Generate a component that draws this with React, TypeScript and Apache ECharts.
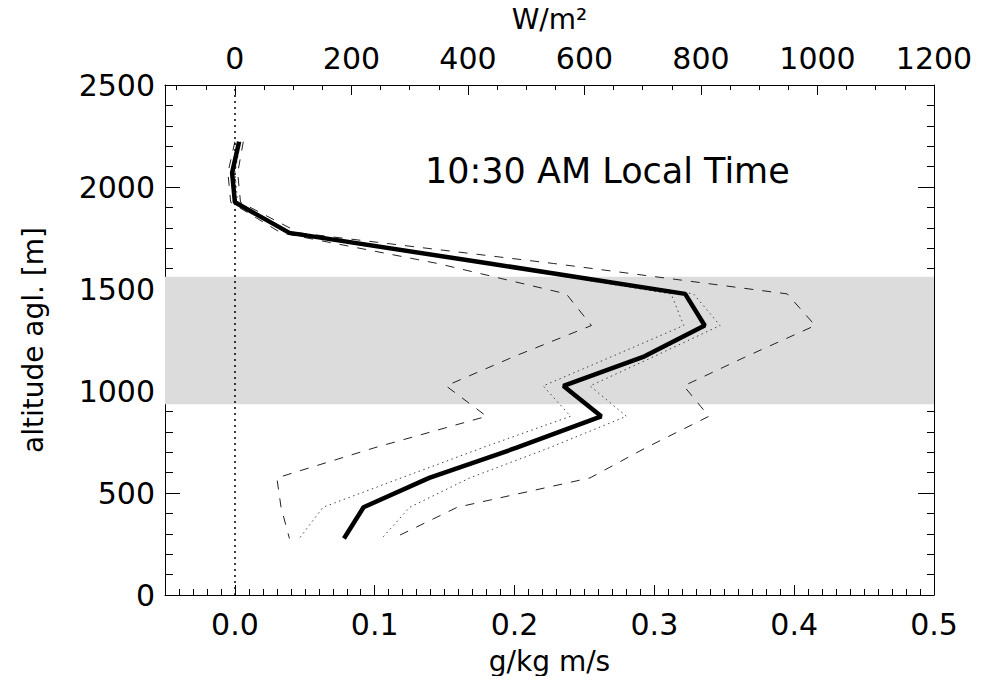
import React, { useEffect, useRef } from "react";
import * as echarts from "echarts";

const altitudes = [2222, 2070, 1925, 1775, 1625, 1476, 1321, 1170, 1025, 876, 722, 574, 430, 277];
const meanFlux = [0.003, -0.002, 0.0, 0.039, 0.182, 0.322, 0.336, 0.293, 0.235, 0.262, 0.2015, 0.139, 0.092, 0.078];
const lowerDashed = [0.0, -0.005, -0.003, 0.033, 0.145, 0.237, 0.255, 0.2, 0.151, 0.18, 0.1, 0.03, 0.033, 0.039];
const upperDashed = [0.006, 0.002, 0.004, 0.046, 0.228, 0.395, 0.415, 0.366, 0.321, 0.339, 0.294, 0.254, 0.159, 0.113];
const lowerDotted = [0.002, -0.003, -0.001, 0.037, 0.178, 0.312, 0.321, 0.27, 0.2205, 0.24, 0.177, 0.119, 0.063, 0.046];
const upperDotted = [0.004, 0.0, 0.002, 0.041, 0.186, 0.328, 0.347, 0.3, 0.254, 0.28, 0.225, 0.168, 0.125, 0.105];

const bottomTicks = [0.0, 0.1, 0.2, 0.3, 0.4, 0.5];
const topTicks = [0, 200, 400, 600, 800, 1000, 1200];
const topMinorTicks = [-100, -50, 50, 100, 150, 250, 300, 350, 450, 500, 550, 650, 700, 750, 850, 900, 950, 1050, 1100, 1150];
const bandRange = [935, 1560];
const titleText = "10:30 AM Local Time";

const FONT = "DejaVu Sans";

function pairs(xs: number[]) {
  return xs.map((x, i) => [x, altitudes[i]]);
}

export default function App() {
  const ref = useRef<HTMLDivElement>(null);
  useEffect(() => {
    if (!ref.current) return;
    const chart = echarts.init(ref.current, undefined, { renderer: "svg" });
    const axisLine = { show: true, onZero: false, lineStyle: { color: "#000", width: 1 } };
    const noLine = { show: false, onZero: false };
    const labelStyle = { fontFamily: FONT, fontSize: 30, color: "#000" };
    chart.setOption({
      animation: false,
      backgroundColor: "#fff",
      grid: { left: 165, right: 55, top: 84, bottom: 89, containLabel: false },
      xAxis: [
        {
          type: "value", position: "bottom", min: -0.05, max: 0.5,
          axisLine,
          axisTick: { show: true, inside: true, length: 10, customValues: bottomTicks, lineStyle: { color: "#000" } },
          axisLabel: { ...labelStyle, margin: 14, customValues: bottomTicks, formatter: (v: number) => v.toFixed(1) },
          splitLine: { show: false },
          name: "g/kg m/s", nameLocation: "middle", nameGap: 52,
          nameTextStyle: { fontFamily: FONT, fontSize: 28, color: "#000" },
        },
        {
          type: "value", position: "bottom", min: -0.05, max: 0.5, interval: 0.01,
          axisLine: noLine,
          axisTick: { show: true, inside: true, length: 6, lineStyle: { color: "#000" } },
          axisLabel: { show: false },
          splitLine: { show: false },
        },
        {
          type: "value", position: "top", min: -120, max: 1200,
          axisLine,
          axisTick: { show: true, inside: true, length: 10, customValues: topTicks, lineStyle: { color: "#000" } },
          axisLabel: { ...labelStyle, margin: 12, customValues: topTicks, formatter: (v: number) => String(v) },
          splitLine: { show: false },
          name: "W/m²", nameLocation: "middle", nameGap: 52,
          nameTextStyle: { fontFamily: FONT, fontSize: 28, color: "#000" },
        },
        {
          type: "value", position: "top", min: -120, max: 1200,
          axisLine: noLine,
          axisTick: { show: true, inside: true, length: 5, customValues: topMinorTicks, lineStyle: { color: "#000" } },
          axisLabel: { show: false },
          splitLine: { show: false },
        },
      ],
      yAxis: [
        {
          type: "value", position: "left", min: 0, max: 2500, interval: 500,
          axisLine,
          axisTick: { show: true, inside: true, length: 15, lineStyle: { color: "#000" } },
          minorTick: { show: true, splitNumber: 5, length: 8, lineStyle: { color: "#000" } },
          axisLabel: { ...labelStyle, margin: 10, formatter: (v: number) => String(v) },
          splitLine: { show: false },
          name: "altitude agl. [m]", nameLocation: "middle", nameGap: 118,
          nameTextStyle: { fontFamily: FONT, fontSize: 28, color: "#000" },
        },
        {
          type: "value", position: "right", min: 0, max: 2500, interval: 500,
          axisLine,
          axisTick: { show: true, inside: true, length: 16, lineStyle: { color: "#000" } },
          minorTick: { show: true, splitNumber: 5, length: 7, lineStyle: { color: "#000" } },
          axisLabel: { show: false },
          splitLine: { show: false },
        },
      ],
      series: [
        {
          type: "line", data: [], silent: true, z: 1,
          markArea: {
            silent: true,
            itemStyle: { color: "#dcdcdc" },
            data: [[{ yAxis: bandRange[0] }, { yAxis: bandRange[1] }]],
          },
          markLine: {
            silent: true, symbol: "none", label: { show: false },
            lineStyle: { color: "#000", type: [2, 4], width: 1.5 },
            data: [{ xAxis: 0 }],
          },
        },
        {
          type: "line", data: pairs(lowerDashed), symbol: "none", z: 3, silent: true,
          lineStyle: { color: "#222", width: 1, type: [9, 9] },
        },
        {
          type: "line", data: pairs(upperDashed), symbol: "none", z: 3, silent: true,
          lineStyle: { color: "#222", width: 1, type: [9, 9] },
        },
        {
          type: "line", data: pairs(lowerDotted), symbol: "none", z: 3, silent: true,
          lineStyle: { color: "#444", width: 1, type: [1.5, 3.5] },
        },
        {
          type: "line", data: pairs(upperDotted), symbol: "none", z: 3, silent: true,
          lineStyle: { color: "#444", width: 1, type: [1.5, 3.5] },
        },
        {
          type: "line", data: pairs(meanFlux), symbol: "none", z: 5, silent: true,
          lineStyle: { color: "#000", width: 4.5 },
        },
      ],
      graphic: [
        {
          type: "text", left: 425, top: 153, z: 10,
          style: { text: titleText, fontFamily: FONT, fontSize: 35, fill: "#000" },
        },
      ],
    });
    return () => chart.dispose();
  }, []);
  return <div ref={ref} style={{ width: 989, height: 684, margin: -8 }} />;
}
